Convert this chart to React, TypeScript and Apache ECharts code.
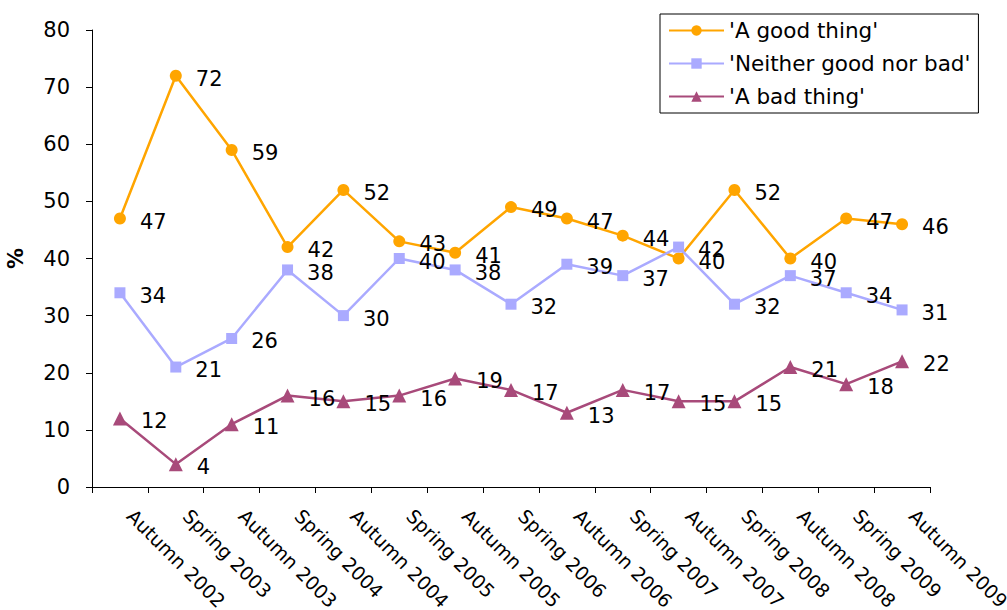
import React, { useEffect, useRef } from "react";
import * as echarts from "echarts";

const categories = [
  "Autumn 2002", "Spring 2003", "Autumn 2003", "Spring 2004", "Autumn 2004",
  "Spring 2005", "Autumn 2005", "Spring 2006", "Autumn 2006", "Spring 2007",
  "Autumn 2007", "Spring 2008", "Autumn 2008", "Spring 2009", "Autumn 2009",
];
const goodThing = [47, 72, 59, 42, 52, 43, 41, 49, 47, 44, 40, 52, 40, 47, 46];
const neither = [34, 21, 26, 38, 30, 40, 38, 32, 39, 37, 42, 32, 37, 34, 31];
const badThing = [12, 4, 11, 16, 15, 16, 19, 17, 13, 17, 15, 15, 21, 18, 22];

const FONT = "DejaVu Sans";

export default function App() {
  const ref = useRef<HTMLDivElement>(null);
  useEffect(() => {
    document.body.style.margin = "0";
    const chart = echarts.init(ref.current!, null, { renderer: "svg" });
    const label = {
      show: true,
      position: "right" as const,
      distance: 14,
      offset: [0, 3],
      color: "#000",
      fontFamily: FONT,
      fontSize: 21,
    };
    const mk = (name: string, data: number[], color: string, symbol: string, size: number) => ({
      name,
      type: "line",
      data,
      symbol,
      symbolSize: size,
      lineStyle: { color, width: 2.5 },
      itemStyle: { color },
      label,
    });
    chart.setOption({
      animation: false,
      backgroundColor: "#fff",
      grid: { left: 92, right: 77, top: 30, bottom: 123, outerBoundsMode: "none", containLabel: false },
      legend: {
        orient: "vertical",
        left: 660,
        top: 14,
        padding: [4, 8, 4, 8],
        borderColor: "#000",
        borderWidth: 1,
        itemWidth: 55,
        itemHeight: 13,
        itemGap: 8,
        textStyle: { fontFamily: FONT, fontSize: 21.5, color: "#000", lineHeight: 25 },
        data: ["'A good thing'", "'Neither good nor bad'", "'A bad thing'"],
      },
      xAxis: {
        type: "category",
        data: categories,
        boundaryGap: true,
        axisLine: { lineStyle: { color: "#000", width: 1 } },
        axisTick: { show: true, length: 6, lineStyle: { color: "#000" }, interval: 0 },
        axisLabel: {
          interval: 0,
          rotate: -45,
          margin: 15,
          padding: [0, 0, 0, 15],
          color: "#000",
          fontFamily: FONT,
          fontSize: 19,
        },
      },
      yAxis: {
        type: "value",
        min: 0,
        max: 80,
        interval: 10,
        name: "%",
        nameLocation: "middle",
        nameGap: 66,
        nameTextStyle: { fontFamily: FONT, fontSize: 21, fontWeight: "bold", color: "#000" },
        splitLine: { show: false },
        axisLine: { show: true, lineStyle: { color: "#000", width: 1 } },
        axisTick: { show: true, length: 6, lineStyle: { color: "#000" } },
        axisLabel: { margin: 22, color: "#000", fontFamily: FONT, fontSize: 21 },
      },
      series: [
        mk("'A good thing'", goodThing, "#FFA500", "circle", 12),
        mk("'Neither good nor bad'", neither, "#AAAAFF", "rect", 11),
        mk("'A bad thing'", badThing, "#A84A7A", "triangle", 14),
      ],
    });
    return () => chart.dispose();
  }, []);
  return <div ref={ref} style={{ width: 1007, height: 610 }} />;
}
